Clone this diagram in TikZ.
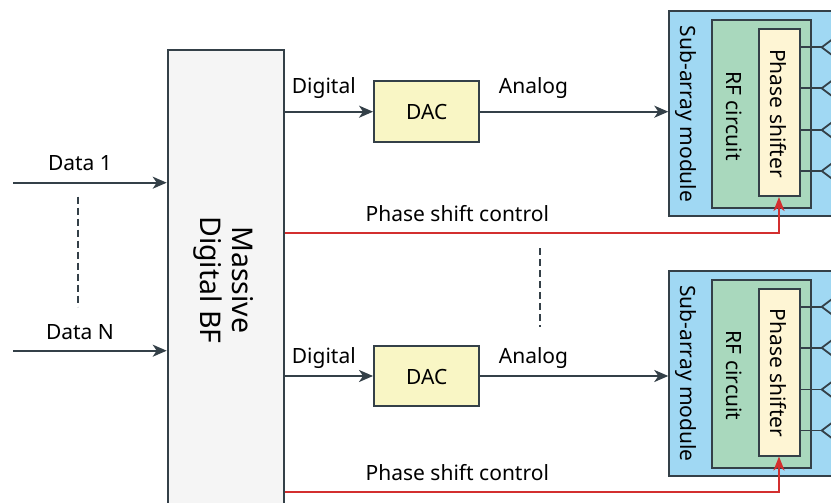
\documentclass[tikz,border=0pt]{standalone}
\usepackage{fontspec}
\setmainfont{Noto Sans}
\usetikzlibrary{arrows.meta,calc}

\definecolor{ink}{RGB}{52,64,72}
\definecolor{bfgray}{RGB}{245,245,245}
\definecolor{dacyellow}{RGB}{249,246,197}
\definecolor{subblue}{RGB}{160,216,243}
\definecolor{rfgreen}{RGB}{169,216,189}
\definecolor{pscream}{RGB}{254,245,212}
\definecolor{ctrlred}{RGB}{211,47,47}

\tikzset{
  box/.style={draw=ink, line width=2pt, rectangle, inner sep=0pt},
  lbl/.style={font=\fontsize{21}{25}\selectfont, inner sep=0pt, text=black},
  sig/.style={draw=ink, line width=2pt, -{Stealth[length=14pt,width=12pt,inset=4pt]}},
  ctrl/.style={draw=ctrlred, line width=2pt, -{Stealth[length=14pt,width=11pt,inset=4pt]}},
  dots/.style={draw=ink, line width=1.8pt, dash pattern=on 7pt off 4pt},
  ant/.style={draw=ink, line width=1.8pt},
}

\begin{document}
\begin{tikzpicture}[x=1pt,y=1pt]
\useasboundingbox (0,0) rectangle (831,-503);
\clip (0,0) rectangle (831,-503);

% baseband beamformer
\node[box, fill=bfgray, minimum width=116.6pt, minimum height=466pt, anchor=north west]
  (bf) at (166.7,-49) {};
\node[font=\fontsize{28.5}{32}\selectfont, rotate=-90, align=center, inner sep=0pt]
  (bftext) at (224,-280) {Massive\\Digital BF};

% data streams
\coordinate (in1) at (13,-182.7);
\coordinate (inN) at (13,-350.7);
\draw[sig] (in1) -- (in1 -| bf.west);
\draw[sig] (inN) -- (inN -| bf.west);
\node[lbl, anchor=base] (d1) at (80,-171) {Data 1};
\node[lbl, anchor=base] (dN) at (80,-339) {Data N};
\coordinate (dtop) at (77.7,-196.7);
\coordinate (dbot) at (77.7,-306.7);
\draw[dots] (dtop) -- (dbot);

% DAC converters
\node[box, fill=dacyellow, minimum width=105.3pt, minimum height=61pt] (dac1) at (426.7,-111.7) {};
\node[lbl, anchor=base] (dac1t) at (426.7,-120) {DAC};
\node[box, fill=dacyellow, minimum width=105.3pt, minimum height=60pt] (dac2) at (426.7,-376) {};
\node[lbl, anchor=base] (dac2t) at (426.7,-384.3) {DAC};

% sub-array modules (upper and lower)
\foreach \k/\dy in {1/0, 2/-259.5} {
  \begin{scope}[yshift=\dy pt]
    \node[box, fill=subblue, minimum width=200pt, minimum height=205pt, anchor=north west]
      (sub\k) at (668.3,-10) {};
    \node[lbl, rotate=-90] (subt\k) at (685.5,-114) {Sub-array module};
    \node[box, fill=rfgreen, minimum width=99pt, minimum height=188.3pt, anchor=north west]
      (rf\k) at (711,-19) {};
    \node[lbl, rotate=-90] (rft\k) at (734,-116) {RF circuit};
    \node[box, fill=pscream, minimum width=40.7pt, minimum height=166.7pt, anchor=north west]
      (ps\k) at (758.3,-28.3) {};
    \node[lbl, rotate=-90] (pst\k) at (778.2,-113.5) {Phase shifter};
    % antenna feeds
    \foreach \j/\ya in {a/-47.3, b/-88.3, c/-130, d/-171} {
      \coordinate (f\k\j) at (821.7,\ya);
      \draw[ant] (ps\k.east |- f\k\j) -- (f\k\j);
      \draw[ant] ($(f\k\j)+(20,15)$) -- (f\k\j) -- ($(f\k\j)+(20,-15)$);
    }
  \end{scope}
}

% digital and analog paths
\draw[sig] (bf.east |- dac1) -- (dac1.west);
\draw[sig] (dac1.east) -- (dac1.east -| sub1.west);
\draw[sig] (bf.east |- dac2) -- (dac2.west);
\draw[sig] (dac2.east) -- (dac2.east -| sub2.west);
\node[lbl, anchor=base west] (dig1) at (291.7,-93.3) {Digital};
\node[lbl, anchor=base west] (ana1) at (498.7,-93.3) {Analog};
\node[lbl, anchor=base west] (dig2) at (291.7,-363.3) {Digital};
\node[lbl, anchor=base west] (ana2) at (498.7,-363.3) {Analog};

% phase shift control lines
\coordinate (c1) at (779,-233.3);
\coordinate (c2) at (779,-492.3);
\draw[ctrl] (bf.east |- c1) -- (c1) -- (ps1.south -| c1);
\draw[ctrl] (bf.east |- c2) -- (c2) -- (ps2.south -| c2);
\node[lbl, anchor=base] (pc1) at (457.3,-221.7) {Phase shift control};
\node[lbl, anchor=base] (pc2) at (457.3,-480.7) {Phase shift control};

% ellipsis between the two branches
\coordinate (mtop) at (540,-248);
\coordinate (mbot) at (540,-326.7);
\draw[dots] (mtop) -- (mbot);
\end{tikzpicture}
\end{document}
